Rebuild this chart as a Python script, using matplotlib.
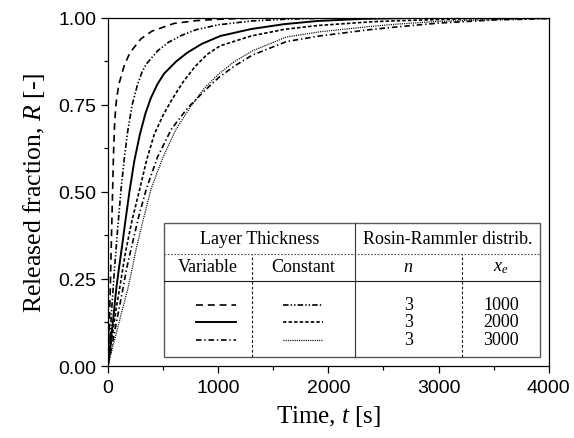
import matplotlib
matplotlib.use("Agg")
import matplotlib.pyplot as plt
from matplotlib.lines import Line2D

plt.rcParams['lines.scale_dashes'] = False
plt.rcParams['font.family'] = ['Liberation Sans', 'DejaVu Sans']
plt.rcParams['mathtext.fontset'] = 'custom'
plt.rcParams['mathtext.it'] = 'Liberation Serif:italic'
plt.rcParams['mathtext.rm'] = 'Liberation Serif'

# values (time in s, released fraction)
t_var1000 = [0, 10, 20, 30, 40, 50, 60, 70, 80, 100, 150, 200, 300, 400, 600, 800, 1000, 1300, 1600, 2000, 4000]
r_var1000 = [0, 0.08, 0.2, 0.34, 0.47, 0.6, 0.69, 0.74, 0.77, 0.81, 0.865, 0.9, 0.94, 0.962, 0.984, 0.992, 0.996, 0.999, 1.0, 1.0, 1.0]

t_con1000 = [0, 20, 40, 60, 90, 120, 150, 180, 220, 270, 310, 350, 450, 550, 670, 800, 1000, 1300, 1600, 2000, 2500, 4000]
r_con1000 = [0, 0.09, 0.19, 0.28, 0.4, 0.51, 0.6, 0.675, 0.75, 0.81, 0.845, 0.868, 0.905, 0.93, 0.95, 0.966, 0.98, 0.991, 0.996, 0.999, 1.0, 1.0]

t_var2000 = [0, 25, 50, 75, 100, 135, 160, 195, 240, 290, 340, 390, 450, 510, 620, 720, 850, 1020, 1300, 1600, 1900, 2300, 2800, 4000]
r_var2000 = [0, 0.07, 0.14, 0.22, 0.28, 0.36, 0.42, 0.5, 0.59, 0.665, 0.725, 0.77, 0.81, 0.84, 0.875, 0.9, 0.925, 0.948, 0.968, 0.982, 0.991, 0.997, 1.0, 1.0]

t_con2000 = [0, 25, 50, 75, 105, 135, 165, 220, 290, 350, 420, 500, 580, 680, 790, 900, 1020, 1300, 1600, 1900, 2400, 2650, 3200, 4000]
r_con2000 = [0, 0.055, 0.11, 0.165, 0.22, 0.28, 0.336, 0.42, 0.51, 0.59, 0.665, 0.72, 0.765, 0.815, 0.86, 0.895, 0.92, 0.948, 0.967, 0.978, 0.989, 0.992, 0.997, 1.0]

t_var3000 = [0, 40, 80, 135, 170, 210, 280, 350, 450, 575, 720, 875, 1010, 1150, 1310, 1620, 1920, 2370, 2620, 3000, 3500, 4000]
r_var3000 = [0, 0.065, 0.13, 0.22, 0.28, 0.336, 0.43, 0.51, 0.6, 0.68, 0.74, 0.79, 0.83, 0.862, 0.893, 0.932, 0.948, 0.966, 0.974, 0.985, 0.994, 0.998]

t_con3000 = [0, 40, 80, 130, 180, 220, 256, 320, 392, 500, 618, 750, 880, 1010, 1150, 1310, 1620, 1920, 2370, 2620, 3000, 3500, 4000]
r_con3000 = [0, 0.05, 0.1, 0.16, 0.221, 0.28, 0.336, 0.42, 0.509, 0.6, 0.68, 0.745, 0.8, 0.84, 0.875, 0.905, 0.945, 0.96, 0.975, 0.982, 0.99, 0.995, 0.998]

n_values = ['3', '3', '3']
xe_values = ['1000', '2000', '3000']

# dash patterns (points)
DASH = (0, (5, 3.5))
SOLID = '-'
DASHDOT = (0, (4, 2, 1, 2))
DASHDOTDOT = (0, (4, 1.5, 1, 1.5, 1, 1.5))
SHORTDASH = (0, (2.5, 1.5))
DOTTED = (0, (0.8, 0.8))

var_styles = [DASH, SOLID, DASHDOT]
con_styles = [DASHDOTDOT, SHORTDASH, DOTTED]

serif = 'Liberation Serif'

fig = plt.figure(figsize=(5.74, 4.39), dpi=100)
ax = fig.add_axes([0.188, 0.164, 0.768, 0.793])

lw = 1.2
ax.plot(t_var1000, r_var1000, color='k', lw=lw, linestyle=DASH)
ax.plot(t_con1000, r_con1000, color='k', lw=lw, linestyle=DASHDOTDOT)
ax.plot(t_var2000, r_var2000, color='k', lw=1.4, linestyle=SOLID)
ax.plot(t_con2000, r_con2000, color='k', lw=lw, linestyle=SHORTDASH)
ax.plot(t_var3000, r_var3000, color='k', lw=lw, linestyle=DASHDOT)
ax.plot(t_con3000, r_con3000, color='k', lw=0.9, linestyle=DOTTED)

ax.set_xlim(0, 4000)
ax.set_ylim(0, 1.0)
ax.set_xticks([0, 1000, 2000, 3000, 4000])
ax.set_xticks([500, 1500, 2500, 3500], minor=True)
ax.set_yticks([0, 0.25, 0.5, 0.75, 1.0])
ax.set_yticks([0.125, 0.375, 0.625, 0.875], minor=True)
ax.set_yticklabels(['0.00', '0.25', '0.50', '0.75', '1.00'])
ax.tick_params(which='major', direction='out', length=5, width=0.9, labelsize=14)
ax.tick_params(axis='x', which='major', pad=4.5)
ax.tick_params(which='minor', direction='out', length=3, width=0.9)
for sp in ax.spines.values():
    sp.set_linewidth(0.9)

ax.set_xlabel('Time, $t$ [s]', fontsize=18, fontfamily=serif, labelpad=5)
ax.set_ylabel('Released fraction, $R$ [-]', fontsize=18.5, fontfamily=serif, labelpad=8)

# legend table drawn in axes fraction coordinates
tr = ax.transAxes
x0, x1 = 0.127, 0.980
y0, y1 = 0.026, 0.411
xmid = 0.560
xdiv1, xdiv2 = 0.3265, 0.803
ydot, ysol = 0.322, 0.244
box = plt.Rectangle((x0, y0), x1 - x0, y1 - y0, transform=tr, facecolor='white',
                    edgecolor='0.35', lw=1.0, zorder=5)
ax.add_patch(box)
ax.add_line(Line2D([xmid, xmid], [y0, y1], transform=tr, color='0.2', lw=0.8, zorder=6))
ax.add_line(Line2D([x0, x1], [ydot, ydot], transform=tr, color='0.3', lw=0.8,
                   linestyle=(0, (1.2, 1.2)), zorder=6))
ax.add_line(Line2D([x0, x1], [ysol, ysol], transform=tr, color='0.1', lw=0.8, zorder=6))
for xd in (xdiv1, xdiv2):
    ax.add_line(Line2D([xd, xd], [y0, ydot], transform=tr, color='0.1', lw=0.8,
                       linestyle=(0, (2, 1.5)), zorder=6))

fs = 13
kw = dict(transform=tr, ha='center', va='center', fontsize=fs, fontfamily=serif, zorder=7)
ax.text((x0 + xmid) / 2, 0.365, 'Layer Thickness', **kw)
ax.text((xmid + x1) / 2, 0.365, 'Rosin-Rammler distrib.', **kw)
ax.text((x0 + xdiv1) / 2, 0.287, 'Variable', **kw)
ax.text((xdiv1 + xmid) / 2, 0.287, 'Constant', **kw)
ax.text((xmid + xdiv2) / 2, 0.287, '$n$', **kw)
ax.text((xdiv2 + x1) / 2, 0.287, '$x_{e}$', **kw)

rows_y = [0.176, 0.127, 0.076]
vx = 0.245
cx = (xdiv1 + xmid) / 2
half = 0.045
for i, yy in enumerate(rows_y):
    ax.add_line(Line2D([vx - half, vx + half], [yy, yy], transform=tr, color='k',
                       lw=lw if i != 1 else 1.4, linestyle=var_styles[i], zorder=7))
    ax.add_line(Line2D([cx - half, cx + half], [yy, yy], transform=tr, color='k',
                       lw=lw if i < 2 else 0.9, linestyle=con_styles[i], zorder=7))
    ax.text((xmid + xdiv2) / 2, yy, n_values[i], **kw)
    ax.text((xdiv2 + x1) / 2, yy, xe_values[i], **kw)

fig.savefig('out.png', dpi=100)
